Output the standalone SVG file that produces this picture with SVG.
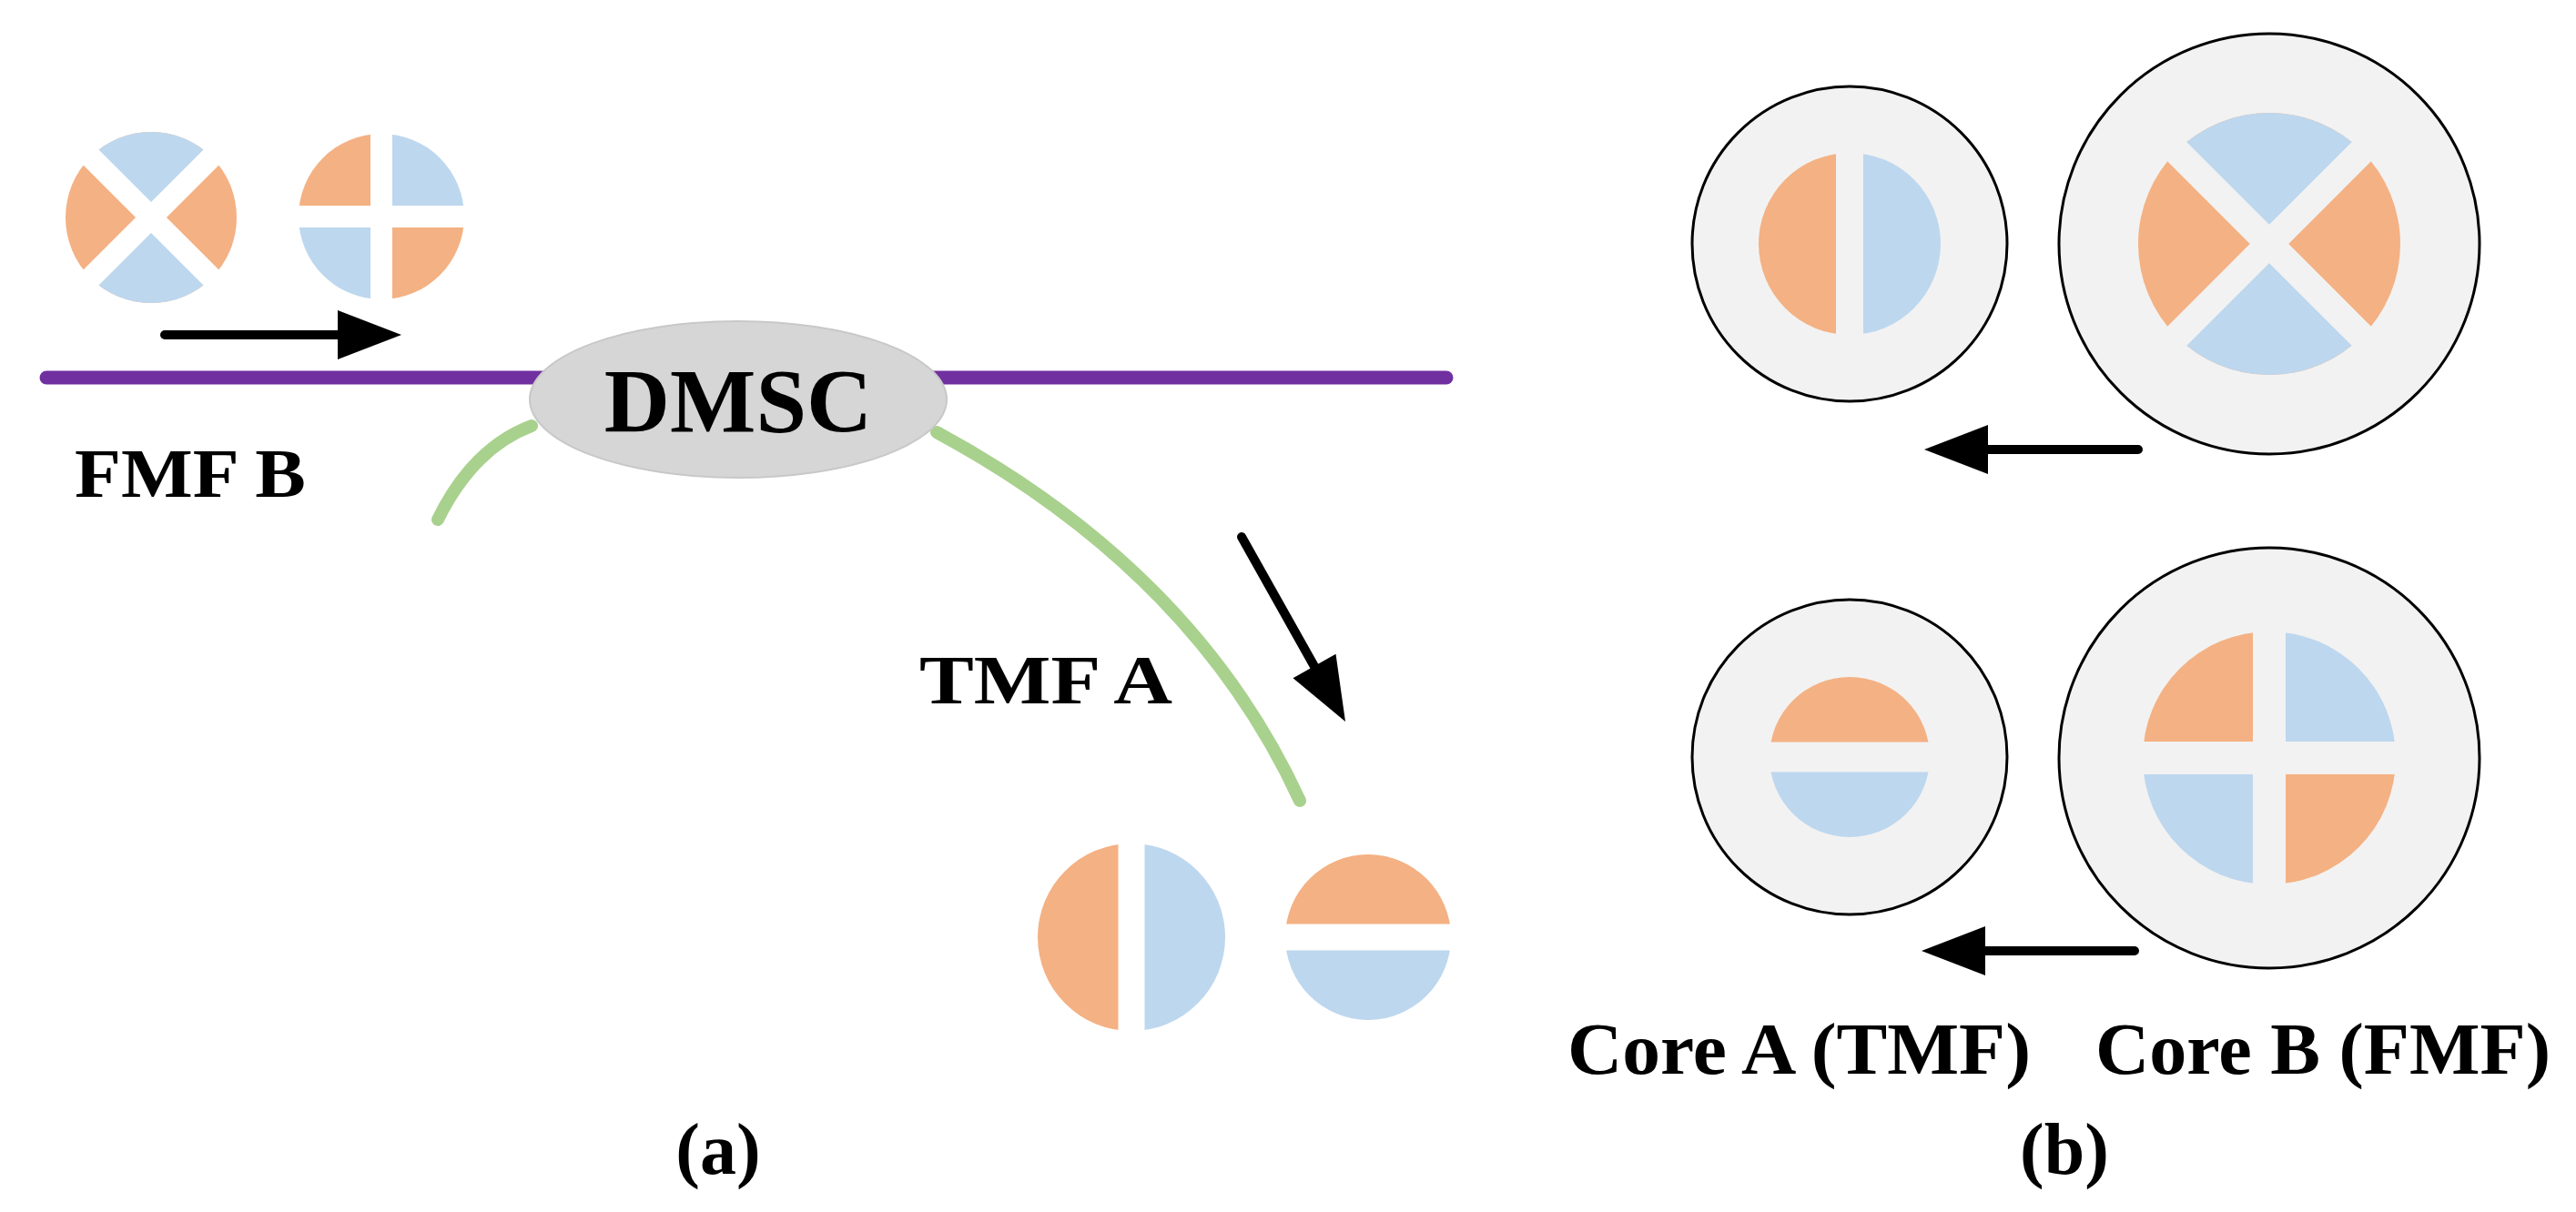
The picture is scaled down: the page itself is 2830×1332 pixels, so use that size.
<svg xmlns="http://www.w3.org/2000/svg" width="2830" height="1332" viewBox="0 0 2830 1332">
<style>
.o{fill:#f4b183}.b{fill:#bdd7ee}
.gw{stroke:#fff;fill:none}.gg{stroke:#f2f2f2;fill:none}
.core{fill:#f2f2f2;stroke:#000;stroke-width:3}
.t{font-family:"Liberation Serif",serif;font-weight:bold;fill:#000}
.arr{stroke:#000;stroke-width:10;stroke-linecap:round;fill:none}
.head{fill:#000}
.fib{stroke:#a9d18e;stroke-width:14;stroke-linecap:round;fill:none}
</style>
<rect width="2830" height="1332" fill="#fff"/>
<g id="fibers">
<line x1="51" y1="415" x2="1589" y2="415" stroke="#7030a0" stroke-width="15" stroke-linecap="round"/>
<path class="fib" d="M584,468 Q520,492 481,571"/>
<path class="fib" d="M1029,475 Q1312,628 1428,880"/>
</g>
<g id="dmsc">
<ellipse cx="811" cy="439" rx="229" ry="86" fill="#d6d6d6" stroke="#c8c8c8" stroke-width="2"/>
<text class="t" x="811" y="474" font-size="100" text-anchor="middle">DMSC</text>
</g>
<g id="modeB1">
<circle class="o" cx="166" cy="239" r="94"/>
<path class="b" d="M166,239 L99.5,172.5 A94,94 0 0 1 232.5,172.5 Z"/>
<path class="b" d="M166,239 L232.5,305.5 A94,94 0 0 1 99.5,305.5 Z"/>
<path class="gw" stroke-width="24" d="M90,163 L242,315 M242,163 L90,315"/>
</g>
<g id="modeB2">
<path class="o" d="M419,238 L328,238 A91,91 0 0 1 419,147 Z"/>
<path class="b" d="M419,238 L419,147 A91,91 0 0 1 510,238 Z"/>
<path class="o" d="M419,238 L510,238 A91,91 0 0 1 419,329 Z"/>
<path class="b" d="M419,238 L419,329 A91,91 0 0 1 328,238 Z"/>
<path class="gw" stroke-width="24" d="M320,238 H518 M419,140 V336"/>
</g>
<g id="modeA1">
<path class="o" d="M1243,927 A103,103 0 0 0 1243,1133 Z"/>
<path class="b" d="M1243,927 A103,103 0 0 1 1243,1133 Z"/>
<path class="gw" stroke-width="29" d="M1243,920 V1140"/>
</g>
<g id="modeA2">
<path class="o" d="M1412,1030 A91,91 0 0 1 1594,1030 Z"/>
<path class="b" d="M1412,1030 A91,91 0 0 0 1594,1030 Z"/>
<path class="gw" stroke-width="29" d="M1405,1030 H1600"/>
</g>
<g id="labels" class="t">
<text x="82" y="546" font-size="76" textLength="254" lengthAdjust="spacingAndGlyphs">FMF B</text>
<text x="1010" y="773" font-size="76" textLength="278" lengthAdjust="spacingAndGlyphs">TMF A</text>
<text x="789" y="1290" font-size="80" text-anchor="middle">(a)</text>
<text x="1722" y="1180" font-size="80" textLength="509" lengthAdjust="spacingAndGlyphs">Core A (TMF)</text>
<text x="2302" y="1180" font-size="80" textLength="500" lengthAdjust="spacingAndGlyphs">Core B (FMF)</text>
<text x="2268" y="1290" font-size="80" text-anchor="middle">(b)</text>
</g>
<g id="coreA_top">
<circle class="core" cx="2032" cy="268" r="173"/>
<path class="o" d="M2032,168 A100,100 0 0 0 2032,368 Z"/>
<path class="b" d="M2032,168 A100,100 0 0 1 2032,368 Z"/>
<path class="gg" stroke-width="30" d="M2032,160 V376"/>
</g>
<g id="coreB_top">
<circle class="core" cx="2493" cy="268" r="231"/>
<circle class="o" cx="2493" cy="268" r="144"/>
<path class="b" d="M2493,268 L2391.2,166.2 A144,144 0 0 1 2594.8,166.2 Z"/>
<path class="b" d="M2493,268 L2594.8,369.8 A144,144 0 0 1 2391.2,369.8 Z"/>
<path class="gg" stroke-width="30" d="M2380,155 L2606,381 M2606,155 L2380,381"/>
</g>
<g id="coreA_bot">
<circle class="core" cx="2032" cy="832" r="173"/>
<path class="o" d="M1944,832 A88,88 0 0 1 2120,832 Z"/>
<path class="b" d="M1944,832 A88,88 0 0 0 2120,832 Z"/>
<path class="gg" stroke-width="33" d="M1936,832 H2128"/>
</g>
<g id="coreB_bot">
<circle class="core" cx="2493" cy="833" r="231"/>
<path class="o" d="M2493,833 L2354,833 A139,139 0 0 1 2493,694 Z"/>
<path class="b" d="M2493,833 L2493,694 A139,139 0 0 1 2632,833 Z"/>
<path class="o" d="M2493,833 L2632,833 A139,139 0 0 1 2493,972 Z"/>
<path class="b" d="M2493,833 L2493,972 A139,139 0 0 1 2354,833 Z"/>
<path class="gg" stroke-width="36" d="M2345,833 H2641 M2493,685 V981"/>
</g>
<g id="connectors">
<path class="arr" d="M181,368 L375,368"/>
<path class="head" d="M371,341 L441,368 L371,395 Z"/>
<path class="arr" d="M1364,590 L1446,736"/>
<path class="head" d="M1467.5,718.8 L1478,793 L1420.5,745.2 Z"/>
<path class="arr" d="M2349,494 L2180,494"/>
<path class="head" d="M2184,467 L2114,494 L2184,521 Z"/>
<path class="arr" d="M2345,1045 L2177,1045"/>
<path class="head" d="M2181,1018 L2111,1045 L2181,1072 Z"/>
</g>
</svg>
